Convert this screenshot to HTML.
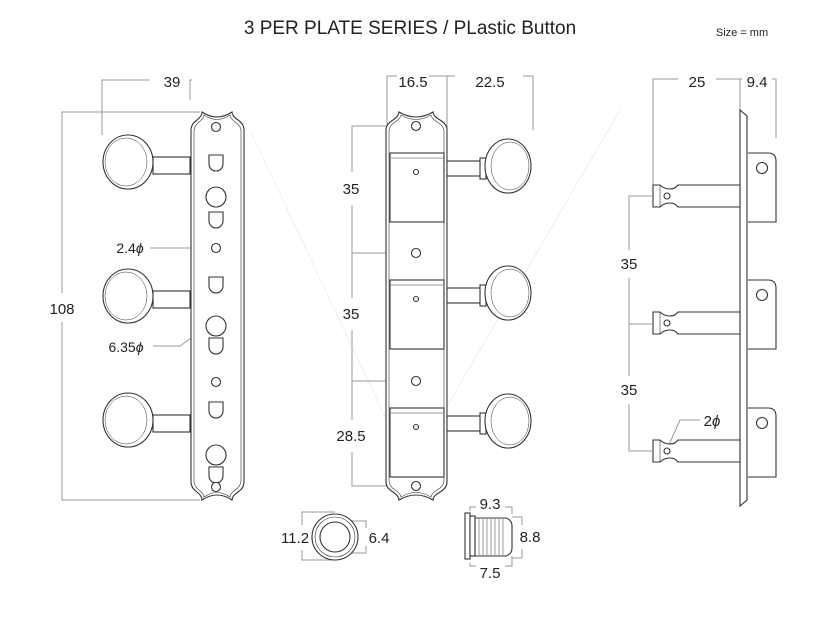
<!DOCTYPE html>
<html><head><meta charset="utf-8"><style>
html,body{margin:0;padding:0;background:#fff}
svg{display:block}
text{font-family:"Liberation Sans",sans-serif;fill:#222}
</style></head><body>
<svg width="824" height="617" viewBox="0 0 824 617" xmlns="http://www.w3.org/2000/svg">
<g fill="none" stroke="#eee" stroke-width="1">
<path d="M250 130 L410 470 L620 110"/>
</g>
<text x="410" y="34" font-size="19" text-anchor="middle">3 PER PLATE SERIES / PLastic Button</text>
<text x="742" y="36" font-size="11" text-anchor="middle">Size = mm</text>

<!-- LEFT VIEW -->
<g fill="none" stroke="#999" stroke-width="1">
<path d="M102 135 V80 H150 M192 80 H190 V100"/>
<path d="M200 112 H62 V293 M62 322 V500 H200"/>
<path d="M150 248 H190 L214 248"/>
<path d="M153 346 H180 L208 326"/>
</g>
<text x="172" y="87" font-size="15" text-anchor="middle">39</text>
<text x="62" y="314" font-size="15" text-anchor="middle">108</text>
<text x="130" y="253" font-size="14" text-anchor="middle">2.4<tspan font-style="italic">ϕ</tspan></text>
<text x="126" y="352" font-size="14" text-anchor="middle">6.35<tspan font-style="italic">ϕ</tspan></text>
<g fill="#fff" stroke="#333" stroke-width="1.1">
<path d="M191 480 V130 Q191 124 197 120 Q202 116 202 112 Q217 122 232 112 Q232 116 238 120 Q244 124 244 130 V482 Q244 488 238 492 Q232 496 232 500 Q217 490 202 500 Q202 496 197 492 Q191 488 191 482 Z"/>
<path d="M194 480 V131 Q194 126 199 122 Q204 118 204 115 Q217 124 230 115 Q230 118 235 122 Q241 126 241 131 V481 Q241 486 235 490 Q230 494 230 497 Q217 488 204 497 Q204 494 199 490 Q194 486 194 481 Z" stroke-width=".6"/>
<g id="lk">
<rect x="153" y="157" width="37" height="17"/>
<ellipse cx="128" cy="162" rx="25" ry="27"/>
<ellipse cx="126" cy="162" rx="21" ry="24" stroke-width=".5"/>
</g>
<use href="#lk" y="134"/><use href="#lk" y="258"/>
<g id="dd"><path d="M209 155 H223 V164 A7 7 0 0 1 209 164 Z"/></g>
<use href="#dd" y="57"/><use href="#dd" y="122"/><use href="#dd" y="183"/><use href="#dd" y="247"/><use href="#dd" y="312"/>
<circle cx="216" cy="127" r="4.5"/>
<circle cx="216" cy="197" r="10"/>
<circle cx="216" cy="248" r="4.5"/>
<circle cx="216" cy="326" r="10"/>
<circle cx="216" cy="382" r="4.5"/>
<circle cx="216" cy="455" r="10"/>
<circle cx="216" cy="487" r="4.5"/>
</g>

<!-- MIDDLE VIEW -->
<g fill="none" stroke="#999" stroke-width="1">
<path d="M387 130 V76 H397 M429 76 H440 H447 V130 M447 76 H455 M523 76 H533 V130"/>
<path d="M410 126 H352 V172 M352 205 V298 M352 330 V420 M352 452 V486 H410"/>
<path d="M352 253 H410 M352 381 H410"/>
</g>
<text x="413" y="87" font-size="15" text-anchor="middle">16.5</text>
<text x="490" y="87" font-size="15" text-anchor="middle">22.5</text>
<text x="351" y="194" font-size="15" text-anchor="middle">35</text>
<text x="351" y="319" font-size="15" text-anchor="middle">35</text>
<text x="351" y="441" font-size="15" text-anchor="middle">28.5</text>
<g fill="#fff" stroke="#333" stroke-width="1.1">
<path d="M386 480 V130 Q386 124 393 120 Q399 116 399 112 Q416 122 433 112 Q433 116 440 120 Q447 124 447 130 V482 Q447 488 440 492 Q433 496 433 500 Q416 490 399 500 Q399 496 393 492 Q386 488 386 482 Z"/>
<path d="M389 480 V131 Q389 126 395 122 Q401 118 401 115 Q416 124 431 115 Q431 118 437 122 Q444 126 444 131 V481 Q444 486 437 490 Q431 494 431 497 Q416 488 401 497 Q401 494 395 490 Q389 486 389 481 Z" stroke-width=".6"/>
<g id="mk">
<rect x="390" y="153" width="54" height="69"/>
<path d="M391 158 H443" stroke-width=".5"/>
<circle cx="416" cy="172" r="2.5"/>
<rect x="447" y="161" width="36" height="15"/>
<rect x="480" y="158" width="6" height="21"/>
<ellipse cx="508" cy="166" rx="23" ry="27"/>
<ellipse cx="510" cy="166" rx="19" ry="24" stroke-width=".5"/>
</g>
<use href="#mk" y="127"/><use href="#mk" y="255"/>
<circle cx="416" cy="126" r="4.5"/>
<circle cx="416" cy="253" r="4.5"/>
<circle cx="416" cy="381" r="4.5"/>
<circle cx="416" cy="486" r="4.5"/>
</g>

<!-- RIGHT VIEW -->
<g fill="none" stroke="#999" stroke-width="1">
<path d="M653 185 V79 H678 M716 79 H740 V110 M740 79 H742 M772 79 H776 V138"/>
<path d="M652 196 H629 V250 M629 278 V376 M629 404 V451 H652"/>
<path d="M629 324 H652"/>
<path d="M668 447 L680 420 H700"/>
</g>
<text x="697" y="87" font-size="15" text-anchor="middle">25</text>
<text x="757" y="87" font-size="15" text-anchor="middle">9.4</text>
<text x="629" y="269" font-size="15" text-anchor="middle">35</text>
<text x="629" y="395" font-size="15" text-anchor="middle">35</text>
<text x="712" y="426" font-size="15" text-anchor="middle">2<tspan font-style="italic">ϕ</tspan></text>
<g fill="#fff" stroke="#333" stroke-width="1.1">
<path d="M740 110 L747 116 V500 L740 506 Z"/>
<g id="rk">
<path d="M748 153 H768 Q776 153 776 161 V222 H748"/>
<circle cx="762" cy="168" r="5.5"/>
<path d="M653 185 H660 Q664 189 670 189 Q675 189 678 185 H740 V207 H678 Q675 203 670 203 Q664 203 660 207 H653 Z"/>
<path d="M660 185 V207" stroke-width=".6"/>
<circle cx="667" cy="196" r="3"/>
</g>
<use href="#rk" y="127"/><use href="#rk" y="255"/>
</g>

<!-- BOTTOM PARTS -->
<g fill="none" stroke="#999" stroke-width="1">
<path d="M335 512 H302 V525 M302 550 V560 H335"/>
<path d="M340 521 H366 V528 M366 546 V553 H340"/>
<path d="M470 511 V507 H476 M505 507 H512 V514"/>
<path d="M512 517 H522 V525 M522 549 V558 H512"/>
<path d="M470 563 V566 H476 M505 566 H512 V556"/>
</g>
<text x="295" y="543" font-size="15" text-anchor="middle">11.2</text>
<text x="379" y="543" font-size="15" text-anchor="middle">6.4</text>
<text x="490" y="509" font-size="15" text-anchor="middle">9.3</text>
<text x="530" y="542" font-size="15" text-anchor="middle">8.8</text>
<text x="490" y="578" font-size="15" text-anchor="middle">7.5</text>
<g fill="#fff" stroke="#333" stroke-width="1.1">
<circle cx="335" cy="537" r="23"/>
<circle cx="335" cy="537" r="20" stroke-width=".6"/>
<circle cx="335" cy="537" r="15"/>
<rect x="465" y="513" width="5" height="46"/>
<rect x="470" y="516" width="5" height="40"/>
<path d="M475 518 H506 Q512 520 512 526 V548 Q512 554 506 556 H475 Z"/>
<path d="M479 519 V555 M483 519 V555 M487 519 V555 M491 519 V555 M495 519 V555 M499 519 V555 M503 519 V555" stroke-width=".5"/>
</g>
</svg>
</body></html>
